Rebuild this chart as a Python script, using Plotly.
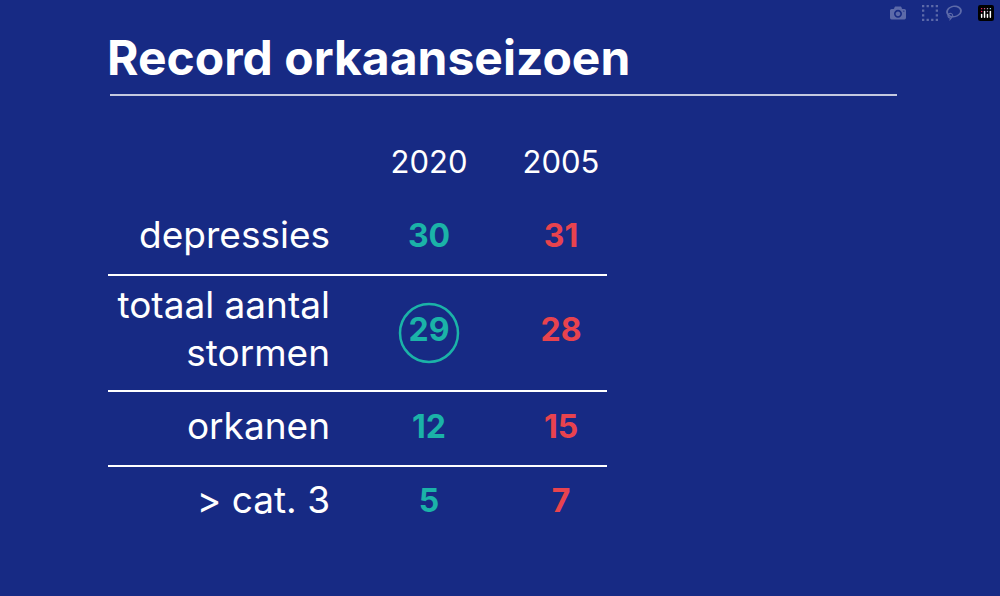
import plotly.graph_objects as go

title = "Record orkaanseizoen"
years = ["2020", "2005"]
rows = ["depressies", "totaal aantal<br>stormen", "orkanen", "> cat. 3"]
vals_2020 = [30, 29, 12, 5]
vals_2005 = [31, 28, 15, 7]
highlight_row = 1  # circled value in 2020

BG = "#172a84"
TEAL = "#1bb3a8"
RED = "#e8434e"
W = "white"

row_y = [239, 333, 430, 504]
col_x = [429, 561]
label_x = 330
sep_y = [275, 391, 466]

fig = go.Figure()
fig.add_trace(go.Scatter(x=[label_x]*4, y=row_y, mode="text", text=rows,
                         textposition="middle left",
                         textfont=dict(family="Inter", size=37, color=W)))
fig.add_trace(go.Scatter(x=col_x, y=[165, 165], mode="text", text=years,
                         textfont=dict(family="Inter", size=31, color=W)))
fig.add_trace(go.Scatter(x=[col_x[0]]*4, y=row_y, mode="text", text=[str(v) for v in vals_2020],
                         textfont=dict(family="Inter", size=32, color=TEAL, weight="bold")))
fig.add_trace(go.Scatter(x=[col_x[1]]*4, y=row_y, mode="text", text=[str(v) for v in vals_2005],
                         textfont=dict(family="Inter", size=32, color=RED, weight="bold")))

for y in sep_y:
    fig.add_shape(type="line", x0=108, x1=607, y0=y, y1=y, line=dict(color=W, width=2))
fig.add_shape(type="line", x0=110, x1=897, y0=95, y1=95, line=dict(color=W, width=1.5))
cy = row_y[highlight_row]
fig.add_shape(type="circle", x0=col_x[0]-29, x1=col_x[0]+29, y0=cy-29, y1=cy+29,
              line=dict(color=TEAL, width=2.5))

fig.add_annotation(x=105, y=57, xref="x", yref="y", text="<b>" + title + "</b>",
                   showarrow=False, xanchor="left", yanchor="middle",
                   font=dict(family="Inter", size=48, color=W))

fig.update_layout(width=1000, height=596, margin=dict(l=0, r=0, t=0, b=0),
                  paper_bgcolor=BG, plot_bgcolor=BG, showlegend=False,
                  xaxis=dict(range=[0, 1000], visible=False, fixedrange=True),
                  yaxis=dict(range=[596, 0], visible=False, fixedrange=True))
fig.write_html("out.html",
               post_script="document.body.style.margin='0';document.body.style.background='%s';" % BG)
